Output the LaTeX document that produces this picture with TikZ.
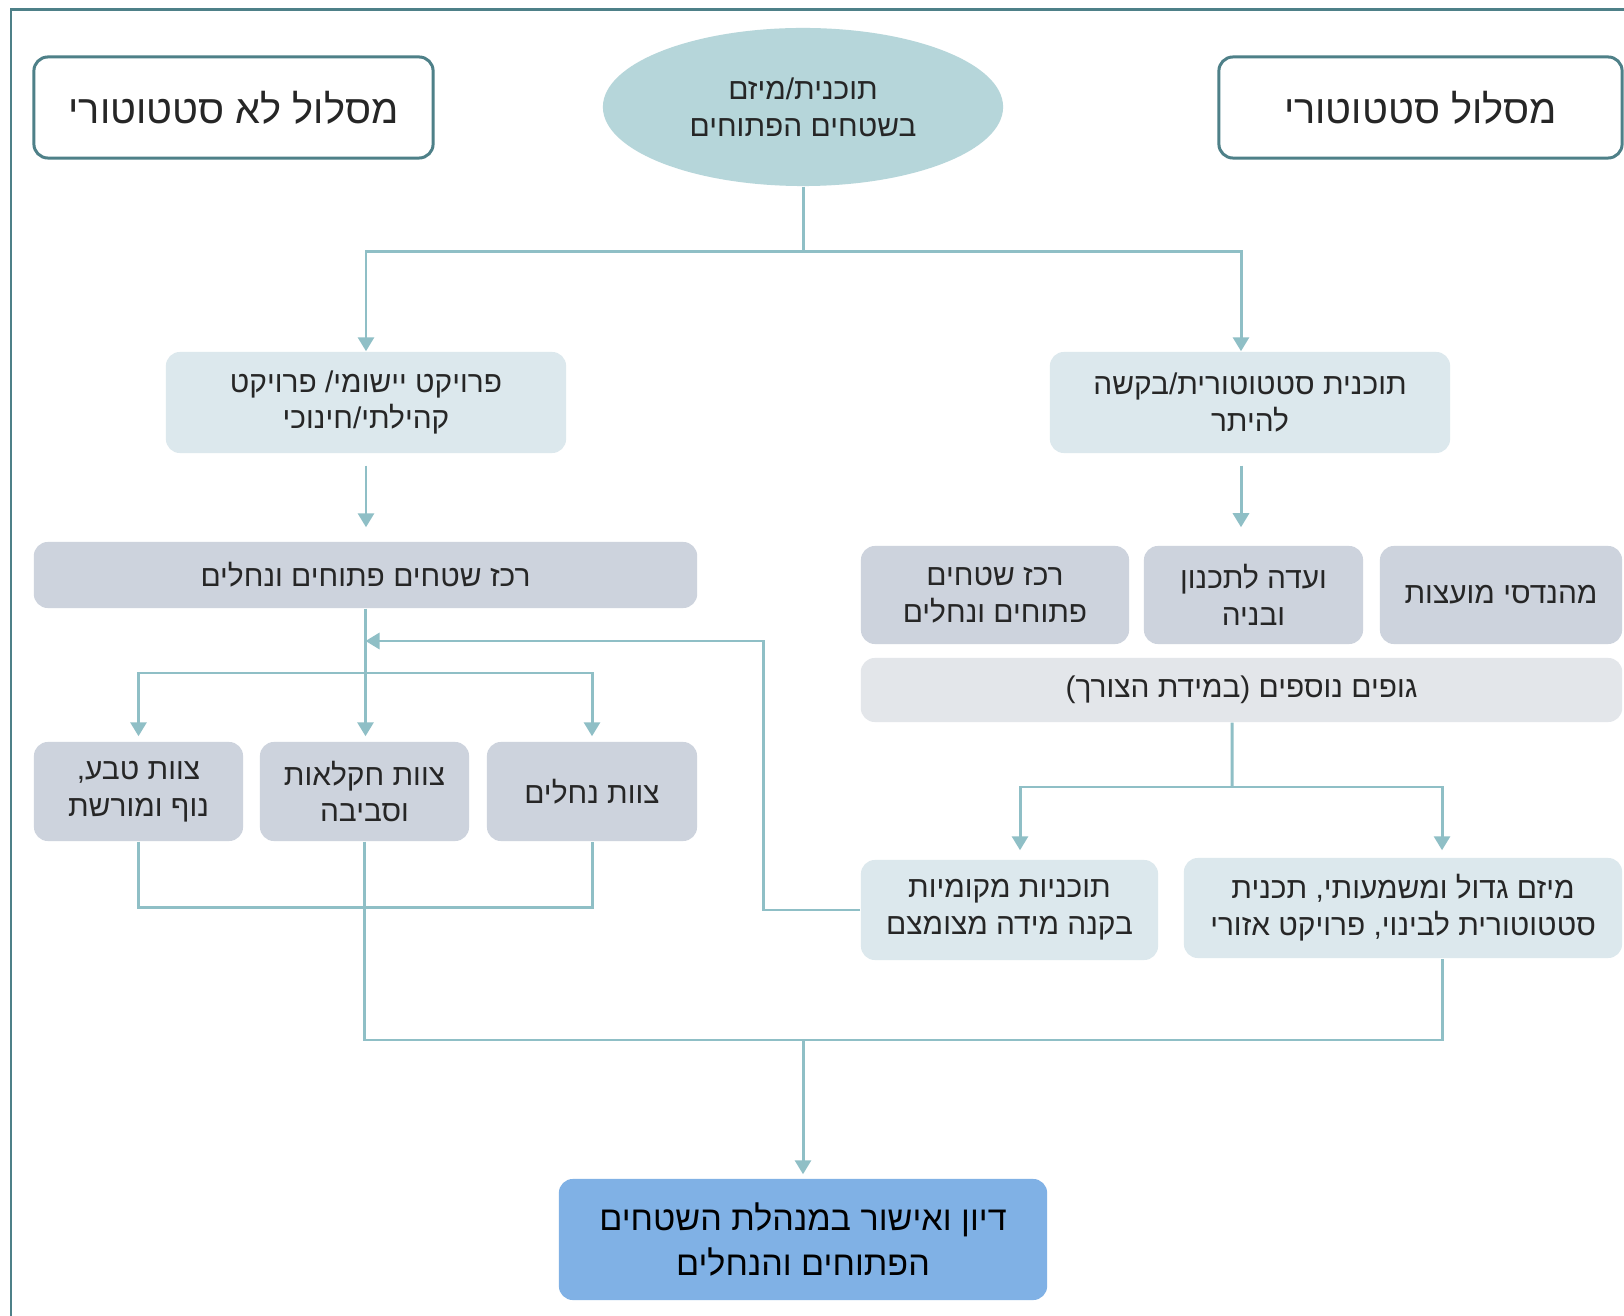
\documentclass[tikz,border=0pt]{standalone}
\usepackage{fontspec}
\usepackage{tikz}
\usetikzlibrary{positioning}
\usetikzlibrary{arrows.meta}
\usetikzlibrary{shapes.geometric}
\usepackage{xcolor}

\TeXXeTstate=1
\newfontfamily\hebfont[Script=Hebrew]{Liberation Sans}
\newcommand{\hebline}[1]{\beginR #1\endR}

\definecolor{framecol}{HTML}{4E8088}
\definecolor{linecol}{HTML}{8FBFC6}
\definecolor{ellcol}{HTML}{B6D6DA}
\definecolor{palecol}{HTML}{DCE8ED}
\definecolor{greycol}{HTML}{CDD3DD}
\definecolor{mistcol}{HTML}{E3E6EA}
\definecolor{finalcol}{HTML}{80B1E5}
\definecolor{textcol}{HTML}{262626}

\begin{document}
\begin{tikzpicture}[x=0.01cm, y=-0.01cm,
  box/.style={rounded corners=0.14cm, inner sep=0pt, align=center, text=textcol,
    font=\hebfont\fontsize{8.5}{10.5}\selectfont},
  pathbox/.style={box, draw=framecol, line width=0.85pt, fill=white,
    font=\hebfont\fontsize{11.3}{14}\selectfont},
  pale/.style={box, fill=palecol},
  grey/.style={box, fill=greycol},
  mist/.style={box, fill=mistcol},
  flow/.style={draw=linecol, line width=0.85pt},
  arr/.style={-{Triangle[width=0.16cm,length=0.14cm]}}]


\fill[white] (0,0) rectangle (1624,1316);
\useasboundingbox (0,0) rectangle (1624,1316);

\begin{scope}[xshift=0cm]
{
\draw[framecol, line width=0.85pt] (11,1316) -- (11,10) -- (1624,10);


\node[pathbox, minimum width=3.99cm, minimum height=1.01cm] (nonstat) at (233.5,107.5) {\hebline{מסלול לא סטטוטורי}};
\node[pathbox, minimum width=4.03cm, minimum height=1.01cm] (stat) at (1420.5,107.5) {\hebline{מסלול סטטוטורי}};

\node[ellipse, fill=ellcol, inner sep=0pt, minimum width=4cm, minimum height=1.58cm, align=center, text=textcol,
  font=\hebfont\fontsize{8.5}{10.5}\selectfont] (idea) at (803,107) {\hebline{תוכנית/מיזם}\\\hebline{בשטחים הפתוחים}};

\node[pale, minimum width=4cm, minimum height=1.01cm] (proj) at (366,402.5) {\hebline{פרויקט יישומי/ פרויקט}\\\hebline{קהילתי/חינוכי}};
\node[pale, minimum width=4cm, minimum height=1.01cm] (plan) at (1250,402.5) {\hebline{תוכנית סטטוטורית/בקשה}\\\hebline{להיתר}};


\node[grey, minimum width=6.63cm, minimum height=0.66cm] (coord) at (365.5,575) {\hebline{רכז שטחים פתוחים ונחלים}};

\node[grey, minimum width=2.68cm, minimum height=0.98cm] (coordR) at (995,595) {\hebline{רכז שטחים}\\\hebline{פתוחים ונחלים}};
\node[grey, minimum width=2.19cm, minimum height=0.98cm] (cttee) at (1253.5,595) {\hebline{ועדה לתכנון}\\\hebline{ובניה}};
\node[grey, minimum width=2.42cm, minimum height=0.98cm] (eng) at (1501,595) {\hebline{מהנדסי מועצות}};
\node[mist, minimum width=7.61cm, minimum height=0.64cm] (extra) at (1241.5,690) {\hebline{גופים נוספים (במידת הצורך)}};


\node[grey, minimum width=2.09cm, minimum height=0.99cm] (teamnature) at (138.5,791.5) {\hebline{צוות טבע,}\\\hebline{נוף ומורשת}};
\node[grey, minimum width=2.09cm, minimum height=0.99cm] (teamfarm) at (364.5,791.5) {\hebline{צוות חקלאות}\\\hebline{וסביבה}};
\node[grey, minimum width=2.10cm, minimum height=0.99cm] (teamriver) at (592,791.5) {\hebline{צוות נחלים}};

\node[pale, minimum width=2.97cm, minimum height=1.00cm] (local) at (1009.5,910) {\hebline{תוכניות מקומיות}\\\hebline{בקנה מידה מצומצם}};
\node[pale, minimum width=4.38cm, minimum height=1.00cm] (big) at (1403,908) {\hebline{מיזם גדול ומשמעותי, תכנית}\\\hebline{סטטוטורית לבינוי, פרויקט אזורי}};

\node[box, fill=finalcol, minimum width=4.88cm, minimum height=1.21cm, text=black,
  font=\hebfont\fontsize{9.7}{12.6}\selectfont] (board) at (803,1239.5) {\hebline{דיון ואישור במנהלת השטחים}\\\hebline{הפתוחים והנחלים}};



\coordinate (top) at (803,252);
\draw[flow] (idea.south) -- (top);
\draw[flow, arr] (top) -| (proj.north);
\draw[flow, arr] (top) -| ([xshift=-0.09cm]plan.north);

\draw[flow, arr, shorten <=0.12cm, shorten >=0.14cm] (proj.south) -- (proj.south |- coord.north);
\draw[flow, arr, shorten <=0.12cm, shorten >=0.18cm] ([xshift=-0.09cm]plan.south) -- ([xshift=-0.09cm]plan.south |- cttee.north);


\coordinate (fork) at (366,673);
\draw[flow, arr, shorten >=0.05cm] (coord.south) -- (coord.south |- teamfarm.north);
\draw[flow, arr, shorten >=0.05cm] (fork) -| (teamnature.north);
\draw[flow, arr, shorten >=0.05cm] (fork) -| (teamriver.north);

\coordinate (back) at (763,641);
\draw[flow, arr] (local.west) -| (back) -- (coord.south |- back);

\draw[flow] (teamnature.south) -- ++(0,66) -| (teamriver.south);

\coordinate (join) at (803,1040);
\draw[flow] (teamfarm.south) |- (join);
\draw[flow] (join) -| ([xshift=0.39cm]big.south);
\draw[flow, arr, shorten >=0.04cm] (join) -- (board.north);


\coordinate (split) at (1232,787);
\draw[flow] ([xshift=-0.095cm]extra.south) -- (split);
\draw[flow, arr, shorten >=0.09cm] (split) -| ([xshift=0.105cm]local.north);
\draw[flow, arr, shorten >=0.07cm] (split) -| ([xshift=0.39cm]big.north);

}
\end{scope}


\end{tikzpicture}
\end{document}
